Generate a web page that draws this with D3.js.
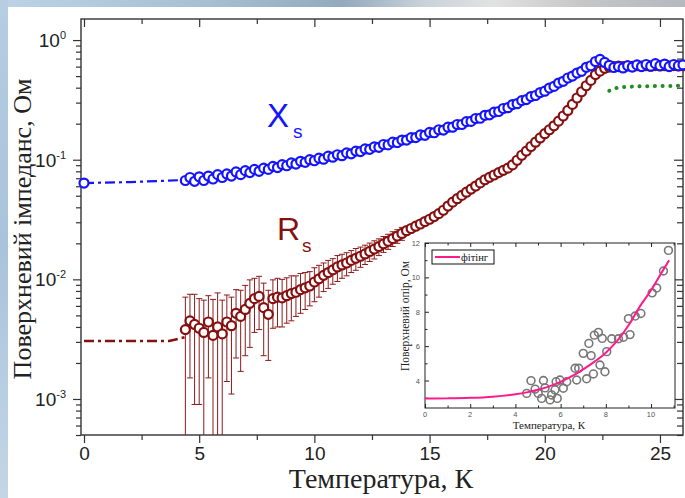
<!DOCTYPE html>
<html><head><meta charset="utf-8">
<script src="https://cdn.jsdelivr.net/npm/d3@7"></script>
<style>html,body{margin:0;padding:0;background:#fff;} svg{display:block;}</style>
</head><body><svg id="c" width="685" height="498"></svg>
<script>
// ---------------- DATA ----------------
const xTickValues = [0, 5, 10, 15, 20, 25];
const yTickExponents = [0, -1, -2, -3];

const temps = [4.4,4.6,4.8,5.0,5.2,5.4,5.6,5.8,6.0,6.2,6.4,6.6,6.8,7.0,7.2,7.4,7.6,7.8,8.0,8.2,
8.4,8.6,8.8,9.0,9.2,9.4,9.6,9.8,10.0,10.2,10.4,10.6,10.8,11.0,11.2,11.4,11.6,11.8,12.0,12.2,
12.4,12.6,12.8,13.0,13.2,13.4,13.6,13.8,14.0,14.2,14.4,14.6,14.8,15.0,15.2,15.4,15.6,15.8,16.0,16.2,
16.4,16.6,16.8,17.0,17.2,17.4,17.6,17.8,18.0,18.2,18.4,18.6,18.8,19.0,19.2,19.4,19.6,19.8,20.0,20.2,
20.4,20.6,20.8,21.0,21.2,21.4,21.6,21.8,22.0,22.2,22.4,22.6,22.8,23.0,23.2,23.4,23.6,23.8,24.0,24.2,
24.4,24.6,24.8,25.0,25.2,25.4,25.6,25.8,26.0];

const xsValues = [0.067,0.071,0.066,0.072,0.067,0.073,0.069,0.075,0.071,0.076,
0.073,0.079,0.075,0.081,0.078,0.083,0.080,0.085,0.083,0.088,
0.086,0.091,0.089,0.094,0.092,0.097,0.095,0.100,0.098,0.103,
0.101,0.107,0.105,0.110,0.108,0.114,0.112,0.118,0.117,0.123,
0.122,0.128,0.127,0.134,0.133,0.140,0.139,0.146,0.146,0.153,
0.153,0.161,0.160,0.169,0.168,0.178,0.177,0.187,0.187,0.197,
0.197,0.208,0.209,0.221,0.222,0.235,0.237,0.250,0.253,0.268,
0.272,0.289,0.294,0.312,0.318,0.337,0.344,0.364,0.374,0.397,
0.410,0.437,0.452,0.482,0.500,0.530,0.548,0.592,0.610,0.662,
0.690,0.650,0.615,0.590,0.600,0.585,0.610,0.595,0.620,0.600,
0.625,0.605,0.635,0.610,0.630,0.600,0.625,0.610,0.620];

const rsValues = [0.0038,0.0045,0.0042,0.0039,0.0036,0.0044,0.0034,0.0040,0.0035,0.0044,
0.0041,0.0052,0.0049,0.0056,0.0063,0.0069,0.0072,0.0058,0.0051,0.0069,
0.0071,0.0070,0.0073,0.0076,0.0078,0.0082,0.0085,0.0088,0.0095,0.0101,
0.0108,0.0114,0.0120,0.0127,0.0132,0.0137,0.0144,0.0150,0.0156,0.0163,
0.0171,0.0179,0.0188,0.0198,0.0208,0.0219,0.0230,0.0242,0.0255,0.0266,
0.0278,0.0290,0.0304,0.0318,0.0335,0.0354,0.0378,0.0410,0.0442,0.0472,
0.0503,0.0535,0.0568,0.0602,0.0640,0.0680,0.0712,0.0745,0.0780,0.0815,
0.0850,0.0905,0.0990,0.1090,0.1180,0.1290,0.1400,0.1520,0.1650,0.1780,
0.1920,0.2100,0.2320,0.2580,0.2900,0.3280,0.3700,0.4150,0.4600,0.5150,
0.5500,0.5800,0.5950,0.6000,0.6050,0.6000,0.6080,0.6020,0.6100,0.6050,
0.6100,0.6050,0.6120,0.6080,0.6100,0.6050,0.6120,0.6080,0.6100];

// symmetric errors for the first points (T = 4.4 ... 13.8)
const rsErrors = [0.0033,0.0030,0.0033,0.0030,0.0031,0.0029,0.0034,0.0037,0.0032,0.0030,
0.0030,0.0030,0.0032,0.0033,0.0036,0.0033,0.0034,0.0035,0.0030,0.0030,
0.0031,0.0030,0.0030,0.0031,0.0029,0.0030,0.0029,0.0028,0.0030,0.0030,
0.0029,0.0030,0.0029,0.0031,0.0030,0.0030,0.0030,0.0031,0.0030,0.0030,
0.0030,0.0031,0.0030,0.0030,0.0030,0.0031,0.0030,0.0030];

// low-temperature extrapolations (dash-dot)
const xsExtrapT = [0, 2, 4.3];
const xsExtrapV = [0.0638, 0.0650, 0.0676];
const rsExtrapT = [0, 3.7, 4.4];
const rsExtrapV = [0.00305, 0.00305, 0.0033];
const xsZeroT = [0];
const xsZeroV = [0.0638];

// green dotted (normal state)
const greenT = [22.8, 23.1, 23.4, 24.0, 25.0, 26.0];
const greenV = [0.377, 0.397, 0.405, 0.410, 0.413, 0.415];

// inset: surface resistance, mOhm
const insetT = [4.5,4.69,4.87,5.01,5.16,5.24,5.31,5.53,5.6,5.75,5.8,5.85,5.97,6.12,6.27,6.64,6.71,6.8,7.0,7.15,
7.25,7.35,7.45,7.49,7.67,7.74,7.84,7.96,8.04,8.26,8.56,8.78,9.07,9.0,9.3,9.55,10.05,10.25,10.55,10.77];
const insetV = [3.25,3.99,3.5,3.25,2.96,4.0,3.57,2.87,3.16,3.45,3.93,2.96,4.03,3.55,3.93,4.71,4.03,4.71,5.58,4.1,
6.16,5.45,4.38,6.64,6.8,4.9,6.45,4.51,5.68,6.43,6.43,6.52,6.67,7.6,7.75,7.9,9.1,9.38,10.37,11.57];
const fitT = [0,1,2,3,4,4.5,5,5.5,6,6.5,7,7.5,8,8.5,9,9.5,10,10.5,10.8];
const fitV = [2.95,2.96,2.99,3.06,3.2,3.31,3.46,3.66,3.92,4.25,4.65,5.1,5.62,6.3,7.2,8.3,9.25,10.35,11.0];
const insetXTicks = [0,2,4,6,8,10];
const insetYTicks = [4,6,8,10,12];

// ---------------- DRAW ----------------
const W = 685, H = 498;
const svg = d3.select('#c');
const defs = svg.append('defs');

// slide background
const tg = defs.append('linearGradient').attr('id','topg').attr('x1',0).attr('x2',1).attr('y1',0).attr('y2',0);
[[0,'#bcd2e6'],[0.3,'#a8bed2'],[0.5,'#93a9bd'],[0.62,'#c9d2da'],[0.72,'#e2e2e2'],[0.85,'#c6c6c6'],[1,'#b4b9bf']]
  .forEach(s => tg.append('stop').attr('offset',s[0]).attr('stop-color',s[1]));
const lg = defs.append('linearGradient').attr('id','leftg').attr('x1',0).attr('x2',0).attr('y1',0).attr('y2',1);
[[0,'#b6cde2'],[0.5,'#a9c3dc'],[1,'#c3d6e6']].forEach(s => lg.append('stop').attr('offset',s[0]).attr('stop-color',s[1]));
svg.append('rect').attr('width',W).attr('height',H).attr('fill','url(#topg)');
svg.append('rect').attr('x',0).attr('y',0).attr('width',8).attr('height',H).attr('fill','url(#leftg)');
svg.append('rect').attr('x',8).attr('y',7).attr('width',W-8).attr('height',H-7).attr('fill','#ffffff');

const x = d3.scaleLinear().domain([-0.13, 26]).range([81, 683]);
const y = d3.scaleLog().domain([5e-4, 1.5]).range([435, 19]);
const axisColor = '#333';

function styleAxis(g){
  g.select('.domain').remove();
  g.selectAll('line').attr('stroke', axisColor).attr('stroke-width', 1.2);
}
const minorX = d3.range(2.5, 26, 5);
const majY = yTickExponents.map(e => Math.pow(10, e));
const minY = [];
for (let e = -4; e <= 0; e++) for (let m = 2; m <= 9; m++) { const v = m*Math.pow(10,e); if (v >= 5e-4 && v <= 1.5) minY.push(v); }

// bottom (outward)
const gb = svg.append('g').attr('transform','translate(0,435)')
  .call(d3.axisBottom(x).tickValues(xTickValues).tickSize(8).tickPadding(4).tickFormat(d3.format('d')));
styleAxis(gb);
gb.selectAll('text').attr('font-family','"Liberation Sans", Arial, sans-serif').attr('font-size',19).attr('fill','#222');
styleAxis(svg.append('g').attr('transform','translate(0,435)').call(d3.axisBottom(x).tickValues(minorX).tickSize(5).tickFormat('')));
// top (inward)
styleAxis(svg.append('g').attr('transform','translate(0,19)').call(d3.axisBottom(x).tickValues(xTickValues).tickSize(8).tickFormat('')));
styleAxis(svg.append('g').attr('transform','translate(0,19)').call(d3.axisBottom(x).tickValues(minorX).tickSize(5).tickFormat('')));
// left (outward)
styleAxis(svg.append('g').attr('transform','translate(81,0)').call(d3.axisLeft(y).tickValues(majY).tickSize(8).tickFormat('')));
styleAxis(svg.append('g').attr('transform','translate(81,0)').call(d3.axisLeft(y).tickValues(minY).tickSize(5).tickFormat('')));
// right (inward)
styleAxis(svg.append('g').attr('transform','translate(683,0)').call(d3.axisLeft(y).tickValues(majY).tickSize(9).tickFormat('')));
styleAxis(svg.append('g').attr('transform','translate(683,0)').call(d3.axisLeft(y).tickValues(minY).tickSize(6).tickFormat('')));

// frame
svg.append('rect').attr('x',81).attr('y',19).attr('width',602).attr('height',416)
  .attr('fill','none').attr('stroke',axisColor).attr('stroke-width',1.4);

// y tick labels 10^n
yTickExponents.forEach(e => {
  const t = svg.append('text').attr('x', 66).attr('y', y(Math.pow(10,e)) + 7)
    .attr('text-anchor','end').attr('font-family','"Liberation Sans", Arial, sans-serif')
    .attr('font-size',19).attr('fill','#222');
  t.append('tspan').text('10');
  t.append('tspan').attr('dy',-8).attr('font-size',11).text(String(e));
});

// axis titles
svg.append('text').attr('x',381).attr('y',488).attr('text-anchor','middle')
  .attr('font-family','"Liberation Serif", "Times New Roman", serif').attr('font-size',28).attr('fill','#222')
  .text('Температура, К');
svg.append('text').attr('transform','translate(31,229) rotate(-90)').attr('text-anchor','middle')
  .attr('font-family','"Liberation Serif", "Times New Roman", serif').attr('font-size',26).attr('fill','#222')
  .text('Поверхневий імпеданс, Ом');

// ---------------- INSET ----------------
const ix = d3.scaleLinear().domain([0, 11.06]).range([425, 675]);
const iy = d3.scaleLinear().domain([2.4, 12]).range([408, 243]);
const inset = svg.append('g');
inset.append('rect').attr('x',425).attr('y',243).attr('width',250).attr('height',165).attr('fill','#fff');
function styleInset(g){ g.select('.domain').remove(); g.selectAll('line').attr('stroke','#222').attr('stroke-width',1); }
const ixMaj = insetXTicks, ixMin = [1,3,5,7,9,11];
styleInset(inset.append('g').attr('transform','translate(0,408)').call(d3.axisTop(ix).tickValues(ixMaj).tickSize(4).tickFormat('')));
styleInset(inset.append('g').attr('transform','translate(0,408)').call(d3.axisTop(ix).tickValues(ixMin).tickSize(2.5).tickFormat('')));
styleInset(inset.append('g').attr('transform','translate(0,243)').call(d3.axisBottom(ix).tickValues(ixMaj).tickSize(4).tickFormat('')));
styleInset(inset.append('g').attr('transform','translate(0,243)').call(d3.axisBottom(ix).tickValues(ixMin).tickSize(2.5).tickFormat('')));
styleInset(inset.append('g').attr('transform','translate(425,0)').call(d3.axisRight(iy).tickValues(insetYTicks).tickSize(4).tickFormat('')));
styleInset(inset.append('g').attr('transform','translate(425,0)').call(d3.axisRight(iy).tickValues([3,5,7,9,11]).tickSize(2.5).tickFormat('')));
inset.append('rect').attr('x',425).attr('y',243).attr('width',250).attr('height',165)
  .attr('fill','none').attr('stroke','#222').attr('stroke-width',1);
insetXTicks.forEach(v => inset.append('text').attr('x',ix(v)).attr('y',416.5).attr('text-anchor','middle')
  .attr('font-family','"Liberation Sans", Arial, sans-serif').attr('font-size',7.5).attr('fill','#555').text(v));
insetYTicks.forEach(v => inset.append('text').attr('x',420).attr('y',iy(v)+3).attr('text-anchor','end')
  .attr('font-family','"Liberation Sans", Arial, sans-serif').attr('font-size',7.5).attr('fill','#555').text(v));
inset.append('text').attr('x',549).attr('y',429).attr('text-anchor','middle')
  .attr('font-family','"Liberation Serif", "Times New Roman", serif').attr('font-size',11).attr('fill','#222')
  .text('Температура, К');
inset.append('text').attr('transform','translate(409,316) rotate(-90)').attr('text-anchor','middle')
  .attr('font-family','"Liberation Serif", "Times New Roman", serif').attr('font-size',11.5).attr('fill','#222')
  .text('Поверхневий опір, Ом');
inset.selectAll('circle.ip').data(insetT.map((t,i)=>[t, insetV[i]])).join('circle').attr('class','ip')
  .attr('cx', d => ix(d[0])).attr('cy', d => iy(d[1])).attr('r', 3.9)
  .attr('fill','none').attr('stroke','#777').attr('stroke-width',1.6);
inset.append('path').datum(fitT.map((t,i)=>[t, fitV[i]]))
  .attr('d', d3.line().x(d=>ix(d[0])).y(d=>iy(d[1])).curve(d3.curveMonotoneX))
  .attr('fill','none').attr('stroke','#ff1a8c').attr('stroke-width',2);
// legend
inset.append('rect').attr('x',432).attr('y',250).attr('width',62).attr('height',14)
  .attr('fill','#fff').attr('stroke','#111').attr('stroke-width',1);
inset.append('line').attr('x1',435).attr('x2',460).attr('y1',257).attr('y2',257)
  .attr('stroke','#ff1a8c').attr('stroke-width',2);
inset.append('text').attr('x',461).attr('y',261)
  .attr('font-family','"Liberation Serif", "Times New Roman", serif').attr('font-size',10.5).attr('fill','#111')
  .text('фітінг');

// ---------------- MAIN DATA ----------------
const blue = '#1414ff', red = '#861010', green = '#1f8f1f';
const line = d3.line().x(d=>x(d[0])).y(d=>y(d[1]));
svg.append('path').datum(rsExtrapT.map((t,i)=>[t, rsExtrapV[i]])).attr('d', line)
  .attr('fill','none').attr('stroke',red).attr('stroke-width',2.6).attr('stroke-dasharray','10 4 3 4');
svg.append('path').datum(xsExtrapT.map((t,i)=>[t, xsExtrapV[i]])).attr('d', line)
  .attr('fill','none').attr('stroke',blue).attr('stroke-width',2.2).attr('stroke-dasharray','10 4 3 4');
svg.append('path').datum(greenT.map((t,i)=>[t, greenV[i]])).attr('d', line)
  .attr('fill','none').attr('stroke',green).attr('stroke-width',4).attr('stroke-linecap','round')
  .attr('stroke-dasharray','0.1 7.6');

// error bars
const ymin = y.domain()[0];
const eb = svg.append('g').attr('stroke', '#8b1a1a').attr('stroke-width', 1);
rsErrors.forEach((e,i) => {
  const t = temps[i], v = rsValues[i];
  const hi = v + e, lo = Math.max(v - e, ymin);
  const cx = x(t);
  eb.append('line').attr('x1',cx).attr('x2',cx).attr('y1',y(hi)).attr('y2',y(lo));
  eb.append('line').attr('x1',cx-3).attr('x2',cx+3).attr('y1',y(hi)).attr('y2',y(hi));
  if (v - e > ymin) eb.append('line').attr('x1',cx-3).attr('x2',cx+3).attr('y1',y(lo)).attr('y2',y(lo));
});

svg.append('g').selectAll('circle').data(temps.map((t,i)=>[t, rsValues[i]])).join('circle')
  .attr('cx', d=>x(d[0])).attr('cy', d=>y(d[1])).attr('r', 4.5)
  .attr('fill','#fff').attr('stroke', red).attr('stroke-width', 2.2);
svg.append('g').selectAll('circle').data(xsZeroT.map((t,i)=>[t, xsZeroV[i]]).concat(temps.map((t,i)=>[t, xsValues[i]]))).join('circle')
  .attr('cx', d=>x(d[0])).attr('cy', d=>y(d[1])).attr('r', 4.5)
  .attr('fill','#fff').attr('stroke', blue).attr('stroke-width', 2.2);

// series labels
const sans = '"Liberation Sans", Arial, sans-serif';
svg.append('text').attr('x',267).attr('y',127).attr('font-family',sans).attr('font-size',33).attr('fill',blue).text('X');
svg.append('text').attr('x',293).attr('y',138).attr('font-family',sans).attr('font-size',19).attr('fill',blue).text('s');
svg.append('text').attr('x',277).attr('y',240).attr('font-family',sans).attr('font-size',32).attr('fill',red).text('R');
svg.append('text').attr('x',302).attr('y',252).attr('font-family',sans).attr('font-size',19).attr('fill',red).text('s');
</script></body></html>
